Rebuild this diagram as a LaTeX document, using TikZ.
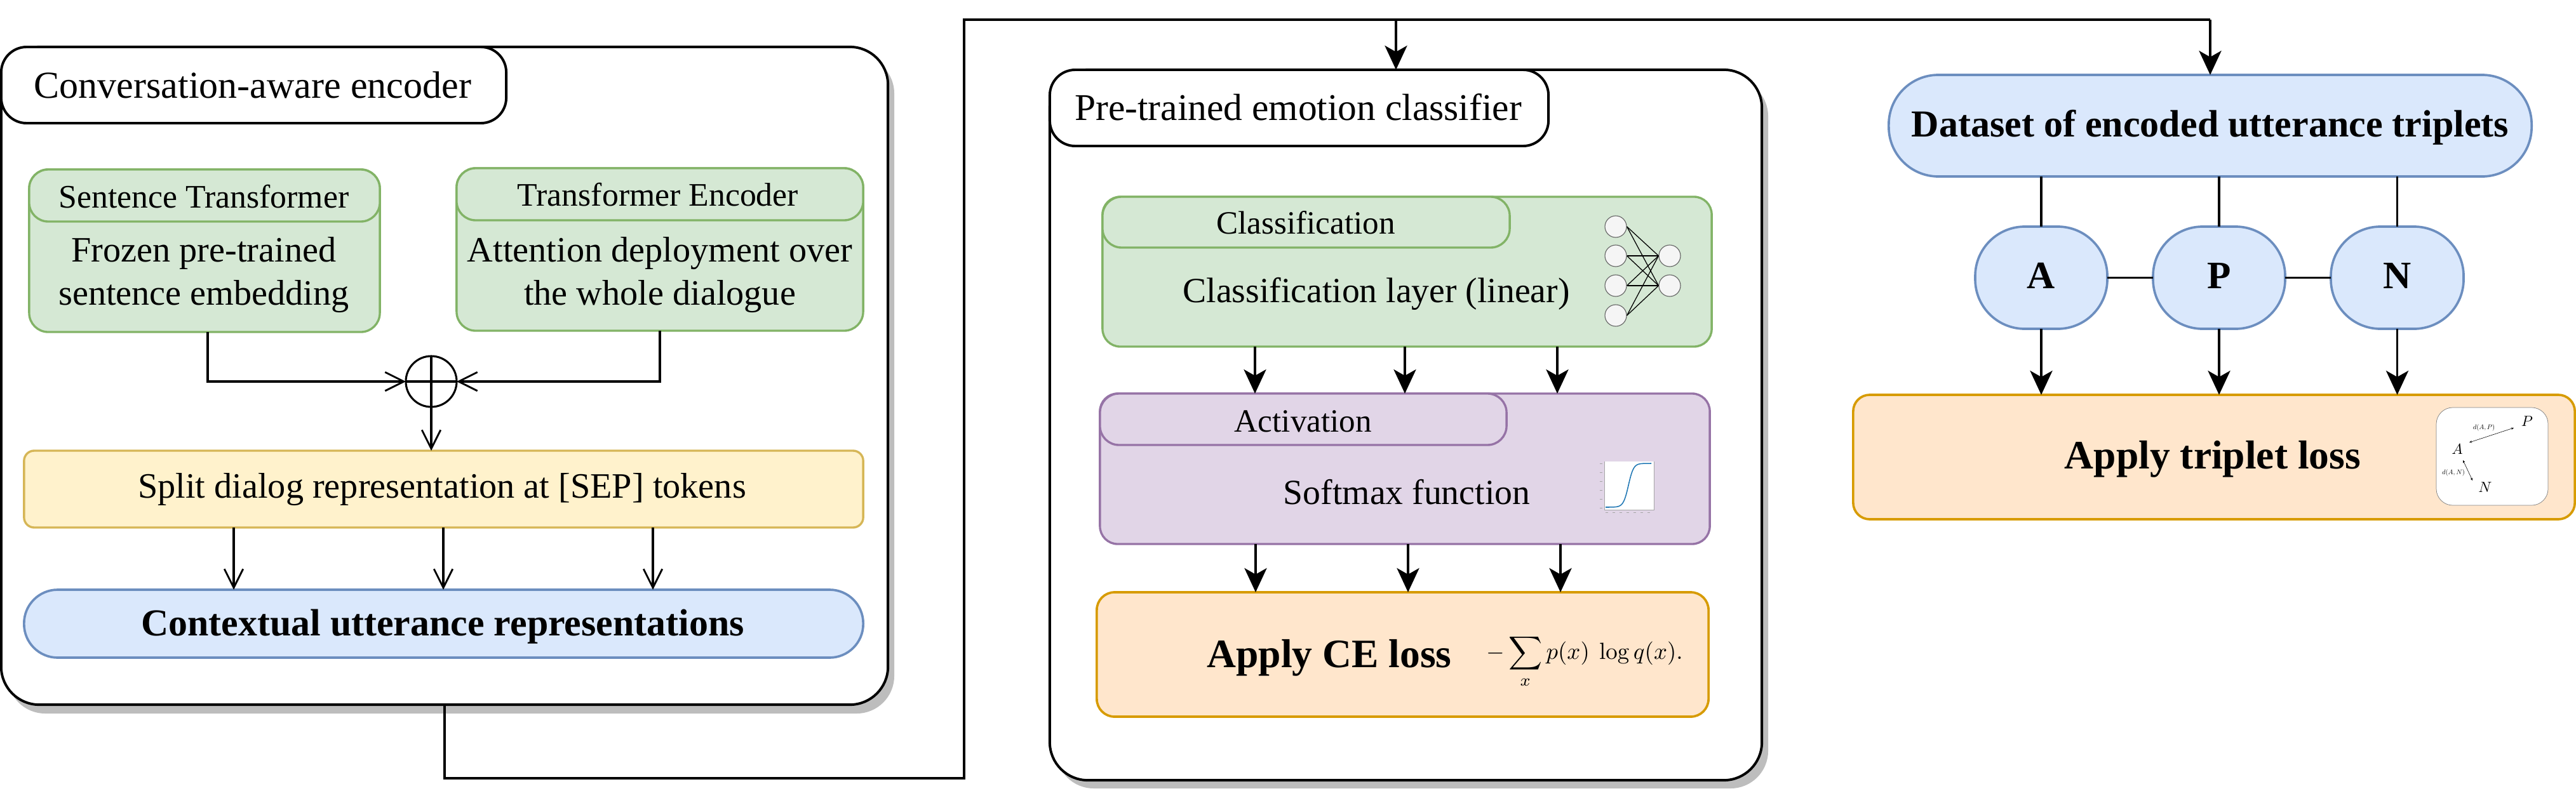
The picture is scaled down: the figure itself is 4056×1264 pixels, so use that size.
\documentclass[tikz,border=0pt]{standalone}
\usepackage[no-math]{fontspec}
\setmainfont{Liberation Serif}
\usetikzlibrary{arrows.meta}
\definecolor{gf}{HTML}{D5E8D4}\definecolor{gd}{HTML}{82B366}
\definecolor{yf}{HTML}{FFF2CC}\definecolor{yd}{HTML}{D6B656}
\definecolor{bf}{HTML}{DAE8FC}\definecolor{bd}{HTML}{6C8EBF}
\definecolor{pf}{HTML}{E1D5E7}\definecolor{pd}{HTML}{9673A6}
\definecolor{of}{HTML}{FFE6CC}\definecolor{od}{HTML}{D79B00}
\definecolor{sh}{HTML}{BDBDBD}\definecolor{nf}{HTML}{F5F5F5}\definecolor{nd}{HTML}{666666}
\definecolor{cv}{HTML}{1F77B4}
\newcommand{\fs}[1]{\fontsize{#1}{49}\selectfont}
% name, style, x1, y1, x2, y2, radius(px)
\newcommand{\pbox}[7]{\node[#2,rectangle,inner sep=0pt,outer sep=0pt,
  minimum width={(#5-#3)*0.7113pt},minimum height={(#6-#4)*0.7113pt},
  rounded corners={#7*0.7113pt}] (#1) at ({(#3+#5)/2},{(#4+#6)/2}) {};}
\tikzset{
  x=0.025cm,y=-0.025cm,
  panel/.style={draw=black,fill=white,line width=2.8pt},
  greenbox/.style={draw=gd,fill=gf,line width=2.4pt},
  yellowbox/.style={draw=yd,fill=yf,line width=2.4pt},
  bluebox/.style={draw=bd,fill=bf,line width=2.6pt},
  purplebox/.style={draw=pd,fill=pf,line width=2.4pt},
  orangebox/.style={draw=od,fill=of,line width=2.6pt},
  txt/.style={inner sep=0pt,outer sep=0pt,align=center,text=black},
  wire/.style={draw=black,line width=2.2pt},
  openarrow/.style={wire,-{Straight Barb[length=21pt,width=21pt,line width=2pt]}},
  solidarrow/.style={draw=black,line width=2.6pt,-{Stealth[length=27pt,width=25pt,inset=7pt]}},
  nncirc/.style={circle,draw=nd,fill=nf,line width=0.8pt,minimum size={34*0.7113pt},inner sep=0pt},
}
\begin{document}
\begin{tikzpicture}
\useasboundingbox (0,0) rectangle (4056,1264);
% ---- left panel
\fill[sh,rounded corners=42pt] (12,88) rectangle (1408,1124);
\pbox{enc}{panel}{2}{74}{1398}{1110}{60}
\pbox{enctitle}{panel}{2}{74}{797}{194}{40}
\node[txt,font={\fs{42.7}}] (enctext) at (398,134) {Conversation-aware encoder};
\pbox{st}{greenbox}{46}{267}{598}{523}{30}
\pbox{sthead}{greenbox}{46}{267}{598}{349}{30}
\node[txt,font={\fs{36.8}}] (sttext) at (321,310) {Sentence Transformer};
\node[txt,font={\fs{40}}] (stbody) at (321,433) {Frozen pre-trained\\sentence embedding};
\pbox{te}{greenbox}{719}{265}{1359}{521}{30}
\pbox{tehead}{greenbox}{719}{265}{1359}{347}{30}
\node[txt,font={\fs{36.8}}] (tetext) at (1036,307) {Transformer Encoder};
\node[txt,font={\fs{40}}] (tebody) at (1039,433) {Attention deployment over\\the whole dialogue};
\node[circle,draw=black,line width=2.2pt,minimum size={80*0.7113pt},inner sep=0pt,outer sep=0pt] (plus) at (679,601) {};
\draw[wire] (plus.north) -- (plus.south);
\draw[wire] (plus.west) -- (plus.east);
\pbox{split}{yellowbox}{38}{710}{1359}{831}{16}
\node[txt,font={\fs{40}}] (splittext) at (696,771) {Split dialog representation at [SEP] tokens};
\pbox{ctx}{bluebox}{38}{929}{1359}{1036}{53}
\node[txt,font={\fs{42.6}\bfseries}] (ctxtext) at (697,987) {Contextual utterance representations};
\draw[openarrow] (st.south -| 327,0) |- (plus.west);
\draw[openarrow] (te.south -| 1039,0) |- (plus.east);
\draw[openarrow] (plus.south) -- (split.north -| plus.south);
\foreach \xx in {368,698,1028}{\draw[openarrow] (split.south -| \xx,0) -- (ctx.north -| \xx,0);}
% ---- middle panel
\fill[sh,rounded corners=42pt] (1663,124) rectangle (2784,1242);
\pbox{clf}{panel}{1653}{110}{2774}{1229}{60}
\pbox{clftitle}{panel}{1653}{110}{2438}{230}{40}
\node[txt,font={\fs{42.3}}] (clftext) at (2044,169) {Pre-trained emotion classifier};
\pbox{cl}{greenbox}{1736}{310}{2695}{546}{28}
\pbox{clhead}{greenbox}{1736}{310}{2377}{390}{30}
\node[txt,font={\fs{36.4}}] (clheadtext) at (2056,351) {Classification};
\node[txt,font={\fs{39.6}}] (clbody) at (2167,463) {Classification layer (linear)};
\foreach \i/\yy in {1/357,2/403,3/450,4/497}{\node[nncirc] (l\i) at (2544,\yy) {};}
\foreach \j/\yy in {1/403,2/450}{\node[nncirc] (r\j) at (2629,\yy) {};}
\foreach \i in {1,2,3,4}{\foreach \j in {1,2}{\draw[black,line width=0.9pt] (l\i.east) -- (r\j.west);}}
\pbox{ac}{purplebox}{1732}{620}{2692}{857}{28}
\pbox{achead}{purplebox}{1732}{620}{2372}{701}{30}
\node[txt,font={\fs{36.4}}] (acheadtext) at (2052,664) {Activation};
\node[txt,font={\fs{39.6}}] (acbody) at (2215,775) {Softmax function};
\node[fill=white,draw=none,minimum width={78*0.7113pt},minimum height={76*0.7113pt},inner sep=0pt,outer sep=0pt] (plot) at (2565,765) {};
\draw[gray!70,line width=0.5pt] (plot.north east) -- (plot.south east) -- (plot.south west) -- (plot.north west);
\draw[cv,line width=1.1pt,domain=-10:10,samples=70] plot ({2564+3.6*\x},{799-69/(1+exp(-0.9*\x))});
\foreach \yy in {730,744,758,772,786,800}{\draw[gray!70,line width=0.4pt] (2519,\yy) -- (2523,\yy);}
\foreach \xx in {2530,2541,2552,2563,2574,2585,2596}{\draw[gray!70,line width=0.4pt] (\xx-2,807) -- (\xx+2,807);}
\pbox{ce}{orangebox}{1727}{933}{2690}{1129}{28}
\node[txt,font={\fs{45.2}\bfseries}] (cetext) at (2093,1036) {Apply CE loss};
\node[txt,scale=2.62] (ceform) at (2495,1042) {$\displaystyle -\sum_x p(x)\ \log q(x).$};
\foreach \xx in {1976,2212,2452}{\draw[solidarrow] (cl.south -| \xx,0) -- (ac.north -| \xx,0);}
\foreach \xx in {1977,2217,2457}{\draw[solidarrow] (ac.south -| \xx,0) -- (ce.north -| \xx,0);}
% ---- right column
\pbox{ds}{bluebox}{2974}{118}{3986}{278}{78}
\node[txt,font={\fs{42.7}\bfseries}] (dstext) at (3480,201) {Dataset of encoded utterance triplets};
\foreach \n/\xa/\xb/\lab in {a/3110/3318/A,p/3390/3598/P,n/3670/3879/N}{
  \pbox{\n}{bluebox}{\xa}{357}{\xb}{518}{78}
  \node[txt,font={\fs{43.5}\bfseries}] (\n text) at ({(\xa+\xb)/2},434) {\lab};
}
\pbox{tl}{orangebox}{2918}{622}{4054}{818}{26}
\node[txt,font={\fs{45.2}\bfseries}] (tltext) at (3484,723) {Apply triplet loss};
\foreach \n in {a,p,n}{
  \draw[wire,line width=2.4pt] (ds.south -| \n) -- (\n.north);
  \draw[solidarrow] (\n.south) -- (tl.north -| \n);
}
\draw[wire,line width=2.4pt] (a.east) -- (p.west);
\draw[wire,line width=2.4pt] (p.east) -- (n.west);
\pbox{tri}{draw=gray,fill=white,line width=0.5pt}{3836}{642}{4012}{796}{26}
\node[txt,scale=1.65] (triA) at (3869,708) {$A$};
\node[txt,scale=1.65] (triP) at (3979,664) {$P$};
\node[txt,scale=1.65] (triN) at (3913,768) {$N$};
\node[txt,scale=0.75] (dap) at (3911,674) {$d(A,P)$};
\node[txt,scale=0.75] (dan) at (3863,745) {$d(A,N)$};
\coordinate (apa) at (3888,697); \coordinate (apb) at (3958,674);
\coordinate (ana) at (3878,725); \coordinate (anb) at (3893,757);
\draw[black,line width=0.4pt,{Stealth[length=3pt,width=2.5pt]}-{Stealth[length=3pt,width=2.5pt]}] (apa) -- (apb);
\draw[black,line width=0.4pt,{Stealth[length=3pt,width=2.5pt]}-{Stealth[length=3pt,width=2.5pt]}] (ana) -- (anb);
% ---- long connector
\coordinate (c1) at (1518,1226);
\coordinate (c2) at (2198,31);
\coordinate (c3) at (3480,31);
\draw[wire] (enc.south -| 700,0) |- (c1) |- (c3);
\draw[solidarrow] (c2) -- (clf.north -| c2);
\draw[solidarrow] (c3) -- (ds.north);
\end{tikzpicture}
\end{document}
